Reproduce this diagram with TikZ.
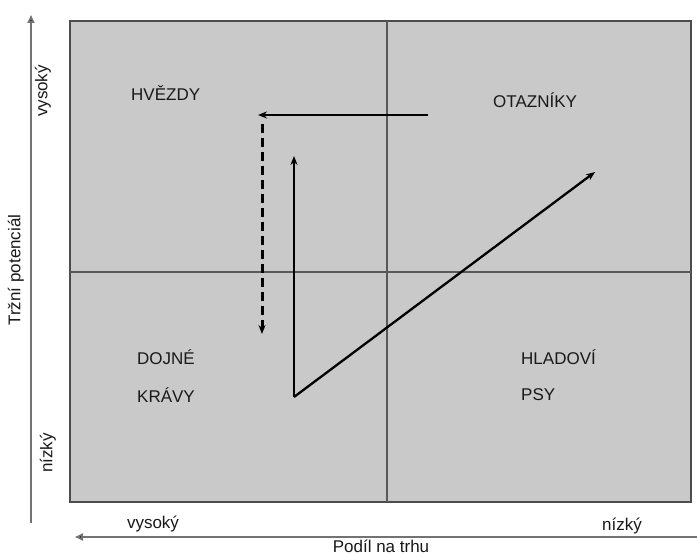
\documentclass[tikz,border=0pt]{standalone}
\usepackage{fontspec}
\setmainfont{Liberation Sans}
\usetikzlibrary{arrows.meta}
\begin{document}
\begin{tikzpicture}[x=1pt,y=-1pt,
  lbl/.style={font=\fontsize{17}{19}\selectfont, text=black!90, inner sep=0pt},
  qlbl/.style={lbl, anchor=west},
  mid/.style={draw=black!65, line width=1.4pt},
  axis/.style={draw=black!55, line width=1.8pt, -{Triangle[length=8pt,width=7pt,fill=black]}},
  flow/.style={draw=black, line width=2.3pt, -{Stealth[length=9pt,width=7pt]}},
  dflow/.style={flow, line width=3pt, dash pattern=on 9pt off 5pt}]
\useasboundingbox (0,0) rectangle (697,556);
\fill[white] (0,0) rectangle (697,556);
% box
\draw[fill=black!21, draw=black!70, line width=2pt] (70,21) rectangle (691,502);
\coordinate (vt) at (387,21); \coordinate (vb) at (387,502);
\coordinate (hl) at (70,272); \coordinate (hr) at (691,272);
\draw[mid] (vt) -- (vb);
\draw[mid] (hl) -- (hr);
% axes
\coordinate (ya) at (31,523); \coordinate (yb) at (31,15);
\coordinate (xa) at (697,537); \coordinate (xb) at (75,537);
\draw[axis] (ya) -- (yb);
\draw[axis] (xa) -- (xb);
% axis labels
\node[lbl, rotate=90] (yh) at (43,91) {vysoký};
\node[lbl, rotate=90] (yl) at (48,453) {nízký};
\node[lbl, rotate=90] (yt) at (16,270) {Tržní potenciál};
\node[lbl] (xh) at (153,524) {vysoký};
\node[lbl] (xl) at (622,526) {nízký};
\node[lbl] (xt) at (381,546) {Podíl na trhu};
% quadrant labels
\node[qlbl] (q1) at (131,93) {HVĚZDY};
\node[qlbl] (q2) at (493,100) {OTAZNÍKY};
\node[qlbl] (q3a) at (137,357) {DOJNÉ};
\node[qlbl] (q3b) at (137,395) {KRÁVY};
\node[qlbl] (q4a) at (521,357) {HLADOVÍ};
\node[qlbl] (q4b) at (521,395) {PSY};
% flows
\coordinate (h1) at (428,115); \coordinate (h2) at (258,115);
\coordinate (d1) at (262,124); \coordinate (d2) at (262,334);
\coordinate (p0) at (294,397); \coordinate (p1) at (294,156); \coordinate (p2) at (595,172);
\draw[flow] (h1) -- (h2);
\draw[dflow] (d1) -- (d2);
\draw[flow] (p0) -- (p1);
\draw[flow] (p0) -- (p2);
\end{tikzpicture}
\end{document}
